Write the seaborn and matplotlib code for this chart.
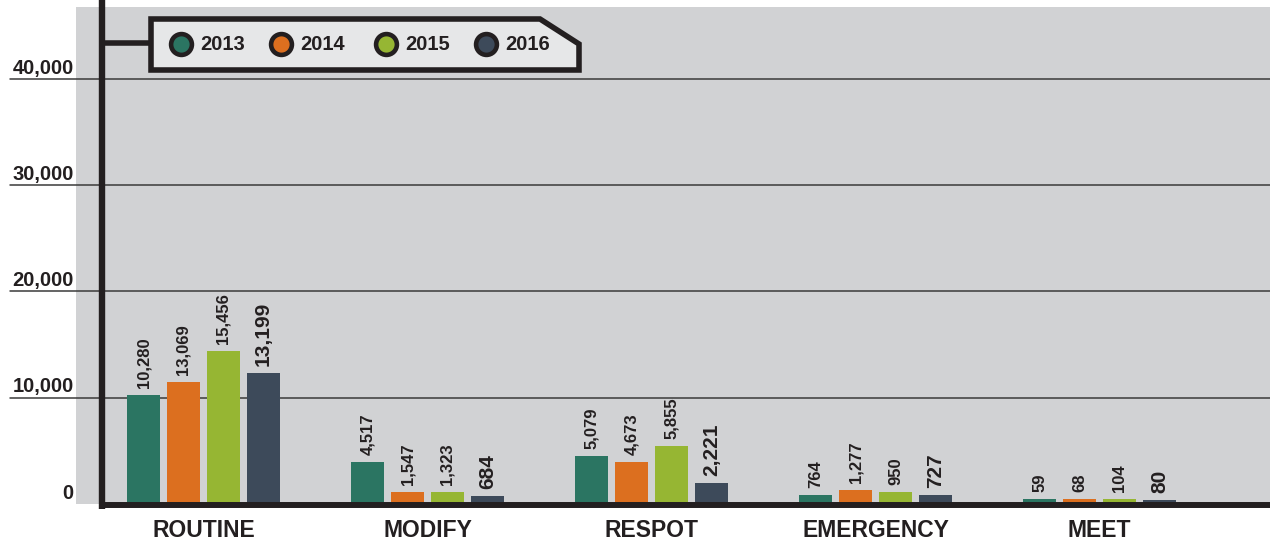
import matplotlib.pyplot as plt
import matplotlib.patches as mpatches
from matplotlib.lines import Line2D
import seaborn as sns
import pandas as pd

categories = ['ROUTINE', 'MODIFY', 'RESPOT', 'EMERGENCY', 'MEET']
years = ['2013', '2014', '2015', '2016']

# bar heights as drawn in the picture
h2013 = [10260, 3950, 4520, 850, 450]
h2014 = [11480, 1130, 3950, 1320, 450]
h2015 = [14400, 1130, 5460, 1130, 450]
h2016 = [12330, 750, 1980, 850, 350]

# printed value labels
lab2013 = ['10,280', '4,517', '5,079', '764', '59']
lab2014 = ['13,069', '1,547', '4,673', '1,277', '68']
lab2015 = ['15,456', '1,323', '5,855', '950', '104']
lab2016 = ['13,199', '684', '2,221', '727', '80']

yticks = [0, 10000, 20000, 30000, 40000]
ytick_labels = ['0', '10,000', '20,000', '30,000', '40,000']

colors = ['#2b7562', '#dc6f1f', '#96b633', '#3d4a5a']
dark = '#231f20'

heights = [h2013, h2014, h2015, h2016]
labels = [lab2013, lab2014, lab2015, lab2016]

df = pd.DataFrame({
    'category': categories * 4,
    'year': [y for y in years for _ in categories],
    'value': h2013 + h2014 + h2015 + h2016,
})

sns.set_theme(style='white')
plt.rcParams['font.family'] = ['Liberation Sans', 'DejaVu Sans']
plt.rcParams['font.weight'] = 'bold'

W, H = 1270, 541
fig = plt.figure(figsize=(12.7, 5.41), dpi=100)
ax = fig.add_axes([76 / W, 37 / H, 1194 / W, 497 / H])
ax.set_facecolor('#d1d2d4')

sns.barplot(data=df, x='category', y='value', hue='year', hue_order=years,
            palette=dict(zip(years, colors)), saturation=1, width=0.713, gap=0.175,
            errorbar=None, legend=False, ax=ax, zorder=3, linewidth=0, edgecolor='none')

ax.set_xlim(-0.569, 4.761)
ax.set_ylim(0, 46776)
for s in ax.spines.values():
    s.set_visible(False)
ax.set_xlabel('')
ax.set_ylabel('')
ax.set_yticks([])
ax.tick_params(axis='x', length=0, pad=11, labelsize=16.5, labelcolor=dark)
for t in ax.get_xticklabels():
    t.set_fontweight('bold')

# gridlines running out under the tick labels
x_left = (10 - 76) / 1194
for v, lab in zip(yticks, ytick_labels):
    if v > 0:
        ax.axhline(v, xmin=x_left, xmax=1, color='#3a3a3a', lw=1.1, clip_on=False, zorder=1)
    ax.annotate(lab, xy=(-0.002, v), xycoords=('axes fraction', 'data'),
                xytext=(0, 1), textcoords='offset points', ha='right', va='bottom',
                fontsize=14.5, fontweight='bold', color=dark)

# thick axis lines
x_axis = -0.451
ax.axvline(x_axis, ymin=-5 / 497, ymax=1 + 7 / 497, color=dark, lw=4.6,
           clip_on=False, zorder=5, solid_capstyle='butt')
ax.plot([x_axis - 0.014, 4.761], [-90, -90], color=dark, lw=4.3,
        clip_on=False, zorder=5, solid_capstyle='butt')

# value labels
for i, cont in enumerate(ax.containers):
    big = i == 3
    ax.bar_label(cont, labels=labels[i], rotation=90, padding=5,
                 fontsize=15 if big else 12, fontweight='bold', color=dark)

# legend box
def px(x, y):
    return (x / W, 1 - y / H)

fig.add_artist(Line2D([px(104, 0)[0], px(150, 0)[0]], [px(0, 43)[1]] * 2,
                      color=dark, lw=4, transform=fig.transFigure))
poly = mpatches.Polygon([px(151, 19), px(540, 19), px(579, 44), px(579, 70), px(151, 70)],
                        closed=True, transform=fig.transFigure, facecolor='#e6e7e8',
                        edgecolor=dark, lw=4, joinstyle='miter', zorder=6)
fig.add_artist(poly)
for cx, tx, yr, c in zip([181, 281, 386, 486], [200, 300, 405, 505], years, colors):
    fig.add_artist(Line2D([px(cx, 0)[0]], [px(0, 44)[1]], marker='o', markersize=15,
                          markerfacecolor=c, markeredgecolor=dark, markeredgewidth=3.3,
                          transform=fig.transFigure, zorder=7))
    fig.text(px(tx, 0)[0], px(0, 45)[1], yr, fontsize=14.5, fontweight='bold',
             color=dark, ha='left', va='center', zorder=7)

fig.savefig('out.png', dpi=100)
